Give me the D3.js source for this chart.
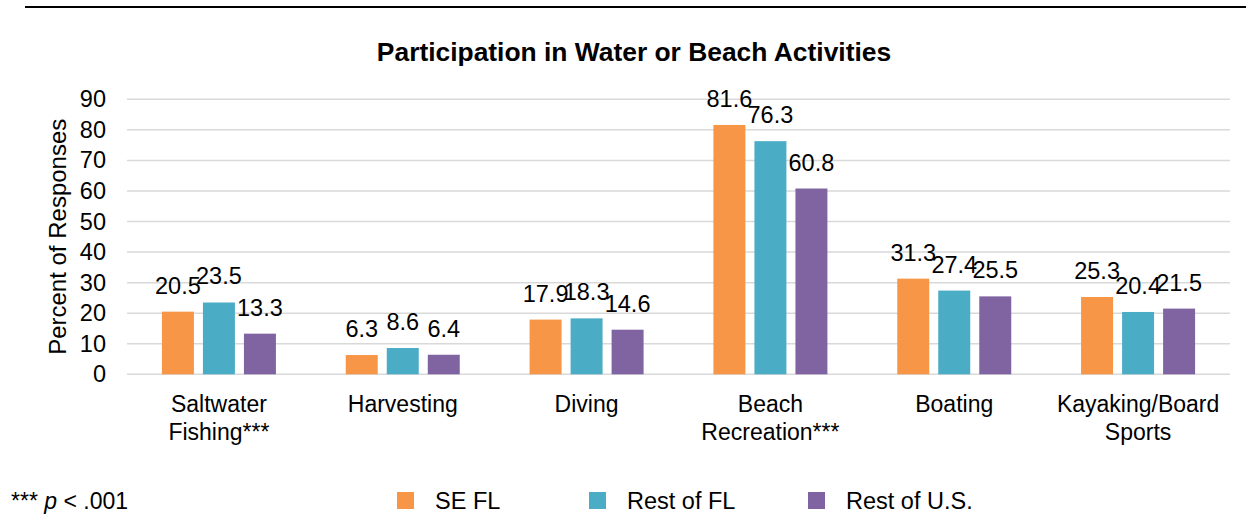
<!DOCTYPE html>
<html><head><meta charset="utf-8">
<script src="https://cdn.jsdelivr.net/npm/d3@7"></script>
<style>
body{margin:0;background:#fff;}
text{font-family:"Liberation Sans",Arial,sans-serif;fill:#000;}
</style></head>
<body><svg id="c" width="1248" height="531"></svg>
<script>
const categories = [["Saltwater","Fishing***"],["Harvesting"],["Diving"],["Beach","Recreation***"],["Boating"],["Kayaking/Board","Sports"]];
const seriesNames = ["SE FL","Rest of FL","Rest of U.S."];
const seFL = [20.5, 6.3, 17.9, 81.6, 31.3, 25.3];
const restFL = [23.5, 8.6, 18.3, 76.3, 27.4, 20.4];
const restUS = [13.3, 6.4, 14.6, 60.8, 25.5, 21.5];
const colors = ["#F79646","#4BACC6","#8064A2"];
const yTicks = [0,10,20,30,40,50,60,70,80,90];
const title = "Participation in Water or Beach Activities";
const yTitle = "Percent of Responses";

const series = [seFL, restFL, restUS];
const svg = d3.select("#c");
const L = 127, R = 1230, T = 99.3, B = 374.3;

svg.append("line").attr("x1",25).attr("x2",1246).attr("y1",7).attr("y2",7)
  .attr("stroke","#000").attr("stroke-width",2);

svg.append("text").attr("x",634).attr("y",61).attr("text-anchor","middle")
  .attr("font-weight","bold").attr("font-size",26.4).text(title);

const x0 = d3.scaleBand().domain(d3.range(categories.length)).range([L,R]);
const x1 = d3.scaleBand().domain(d3.range(3)).range([0,114]).paddingInner(0.22);
const y = d3.scaleLinear().domain([0,90]).range([B,T]);

const grid = svg.append("g");
grid.selectAll("line").data(yTicks).join("line")
  .attr("x1",L).attr("x2",R).attr("y1",d=>y(d)).attr("y2",d=>y(d))
  .attr("stroke","#d9d9d9").attr("stroke-width",1.5);

const yAxis = svg.append("g").attr("transform",`translate(${L},0)`)
  .call(d3.axisLeft(y).tickValues(yTicks).tickSize(0).tickPadding(21).tickFormat(d3.format("d")));
yAxis.select(".domain").remove();
yAxis.selectAll("text").attr("font-size",23.5).attr("font-family","Liberation Sans, Arial, sans-serif").attr("fill","#000");

svg.append("text").attr("transform",`translate(66,${(T+B)/2}) rotate(-90)`)
  .attr("text-anchor","middle").attr("font-size",24).text(yTitle);

const groups = svg.append("g").selectAll("g").data(categories).join("g")
  .attr("transform",(d,i)=>`translate(${x0(i)+x0.bandwidth()/2-57},0)`);
groups.each(function(cat,i){
  const g = d3.select(this);
  series.forEach((s,k)=>{
    g.append("rect").attr("x",x1(k)).attr("width",x1.bandwidth())
      .attr("y",y(s[i])).attr("height",B-y(s[i])).attr("fill",colors[k]);
    g.append("text").attr("x",x1(k)+x1.bandwidth()/2).attr("y",y(s[i])-18)
      .attr("text-anchor","middle").attr("font-size",23.5).text(s[i]);
  });
});

const cl = svg.append("g").selectAll("text").data(categories).join("text")
  .attr("x",(d,i)=>x0(i)+x0.bandwidth()/2).attr("y",411.7)
  .attr("text-anchor","middle").attr("font-size",23);
cl.each(function(lines){
  d3.select(this).selectAll("tspan").data(lines).join("tspan")
    .attr("x",d3.select(this).attr("x")).attr("dy",(d,j)=>j?28.3:0).text(d=>d);
});

const foot = svg.append("text").attr("x",11).attr("y",509).attr("font-size",23);
foot.append("tspan").text("*** ");
foot.append("tspan").attr("font-style","italic").text("p");
foot.append("tspan").text(" < .001");

const legX = [397,589,808];
const leg = svg.append("g").selectAll("g").data(seriesNames).join("g")
  .attr("transform",(d,i)=>`translate(${legX[i]},492)`);
leg.append("rect").attr("width",17).attr("height",17).attr("fill",(d,i)=>colors[i]);
leg.append("text").attr("x",38).attr("y",17).attr("font-size",23.5).text(d=>d);
</script></body></html>
